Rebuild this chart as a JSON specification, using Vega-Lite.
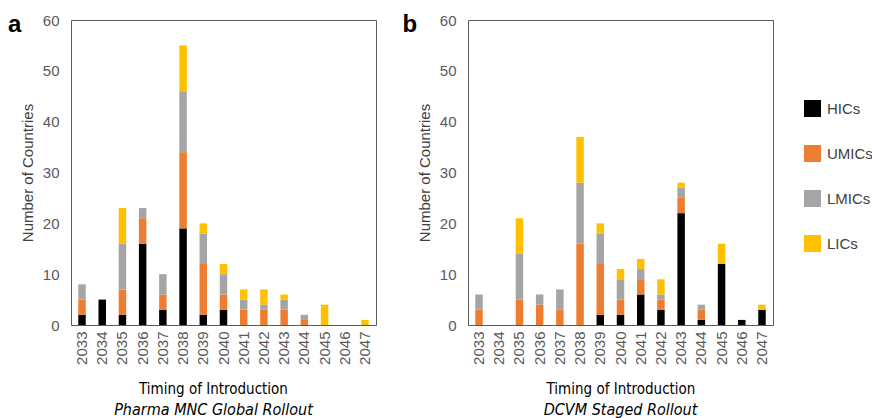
{
  "$schema": "https://vega.github.io/schema/vega-lite/v6.json",
  "padding": {"left": 8, "top": 12, "right": 5, "bottom": 0},
  "background": "white",
  "config": {
    "font": "Liberation Sans",
    "view": {"stroke": "#595959", "strokeWidth": 1},
    "axis": {"labelColor": "#595959", "titleColor": "#404040", "labelFontSize": 15, "titleFontSize": 15, "titleFontWeight": "normal", "domain": false, "ticks": false, "grid": false, "labelFont": "Liberation Sans", "titleFont": "Liberation Sans"},
    "concat": {"spacing": 25}
  },
  "datasets": {
    "a": [
      {"year": "2033", "g": "HICs", "n": 2}, {"year": "2033", "g": "UMICs", "n": 3}, {"year": "2033", "g": "LMICs", "n": 3},
      {"year": "2034", "g": "HICs", "n": 5},
      {"year": "2035", "g": "HICs", "n": 2}, {"year": "2035", "g": "UMICs", "n": 5}, {"year": "2035", "g": "LMICs", "n": 9}, {"year": "2035", "g": "LICs", "n": 7},
      {"year": "2036", "g": "HICs", "n": 16}, {"year": "2036", "g": "UMICs", "n": 5}, {"year": "2036", "g": "LMICs", "n": 2},
      {"year": "2037", "g": "HICs", "n": 3}, {"year": "2037", "g": "UMICs", "n": 3}, {"year": "2037", "g": "LMICs", "n": 4},
      {"year": "2038", "g": "HICs", "n": 19}, {"year": "2038", "g": "UMICs", "n": 15}, {"year": "2038", "g": "LMICs", "n": 12}, {"year": "2038", "g": "LICs", "n": 9},
      {"year": "2039", "g": "HICs", "n": 2}, {"year": "2039", "g": "UMICs", "n": 10}, {"year": "2039", "g": "LMICs", "n": 6}, {"year": "2039", "g": "LICs", "n": 2},
      {"year": "2040", "g": "HICs", "n": 3}, {"year": "2040", "g": "UMICs", "n": 3}, {"year": "2040", "g": "LMICs", "n": 4}, {"year": "2040", "g": "LICs", "n": 2},
      {"year": "2041", "g": "UMICs", "n": 3}, {"year": "2041", "g": "LMICs", "n": 2}, {"year": "2041", "g": "LICs", "n": 2},
      {"year": "2042", "g": "UMICs", "n": 3}, {"year": "2042", "g": "LMICs", "n": 1}, {"year": "2042", "g": "LICs", "n": 3},
      {"year": "2043", "g": "UMICs", "n": 3}, {"year": "2043", "g": "LMICs", "n": 2}, {"year": "2043", "g": "LICs", "n": 1},
      {"year": "2044", "g": "UMICs", "n": 1}, {"year": "2044", "g": "LMICs", "n": 1},
      {"year": "2045", "g": "LICs", "n": 4},
      {"year": "2047", "g": "LICs", "n": 1}
    ],
    "b": [
      {"year": "2033", "g": "UMICs", "n": 3}, {"year": "2033", "g": "LMICs", "n": 3},
      {"year": "2035", "g": "UMICs", "n": 5}, {"year": "2035", "g": "LMICs", "n": 9}, {"year": "2035", "g": "LICs", "n": 7},
      {"year": "2036", "g": "UMICs", "n": 4}, {"year": "2036", "g": "LMICs", "n": 2},
      {"year": "2037", "g": "UMICs", "n": 3}, {"year": "2037", "g": "LMICs", "n": 4},
      {"year": "2038", "g": "UMICs", "n": 16}, {"year": "2038", "g": "LMICs", "n": 12}, {"year": "2038", "g": "LICs", "n": 9},
      {"year": "2039", "g": "HICs", "n": 2}, {"year": "2039", "g": "UMICs", "n": 10}, {"year": "2039", "g": "LMICs", "n": 6}, {"year": "2039", "g": "LICs", "n": 2},
      {"year": "2040", "g": "HICs", "n": 2}, {"year": "2040", "g": "UMICs", "n": 3}, {"year": "2040", "g": "LMICs", "n": 4}, {"year": "2040", "g": "LICs", "n": 2},
      {"year": "2041", "g": "HICs", "n": 6}, {"year": "2041", "g": "UMICs", "n": 3}, {"year": "2041", "g": "LMICs", "n": 2}, {"year": "2041", "g": "LICs", "n": 2},
      {"year": "2042", "g": "HICs", "n": 3}, {"year": "2042", "g": "UMICs", "n": 2}, {"year": "2042", "g": "LMICs", "n": 1}, {"year": "2042", "g": "LICs", "n": 3},
      {"year": "2043", "g": "HICs", "n": 22}, {"year": "2043", "g": "UMICs", "n": 3}, {"year": "2043", "g": "LMICs", "n": 2}, {"year": "2043", "g": "LICs", "n": 1},
      {"year": "2044", "g": "HICs", "n": 1}, {"year": "2044", "g": "UMICs", "n": 2}, {"year": "2044", "g": "LMICs", "n": 1},
      {"year": "2045", "g": "HICs", "n": 12}, {"year": "2045", "g": "LICs", "n": 4},
      {"year": "2046", "g": "HICs", "n": 1},
      {"year": "2047", "g": "HICs", "n": 3}, {"year": "2047", "g": "LICs", "n": 1}
    ]
  },
  "hconcat": [
    {
      "title": {"text": "a", "orient": "left", "anchor": "end", "angle": 0, "fontSize": 24, "fontWeight": "bold", "color": "#000000", "baseline": "top", "align": "right", "offset": -15},
      "vconcat": [
        {
          "data": {"name": "a"},
          "transform": [{"calculate": "indexof(['HICs','UMICs','LMICs','LICs'], datum.g)", "as": "rank"}],
          "width": 305,
          "height": 305,
          "title": {"text": "Pharma MNC Global Rollout", "orient": "bottom", "fontStyle": "italic", "fontWeight": "normal", "fontSize": 16, "color": "#000000", "offset": 6, "dx": -10, "font": "'Liberation Sans Narrow', 'DejaVu Sans Condensed', 'Liberation Sans', sans-serif"},
          "mark": {"type": "bar"},
          "encoding": {
            "x": {"field": "year", "type": "ordinal", "scale": {"domain": ["2033","2034","2035","2036","2037","2038","2039","2040","2041","2042","2043","2044","2045","2046","2047"], "paddingInner": 0.63, "paddingOuter": 0.36}, "axis": {"title": "Timing of Introduction", "titleX": 142, "labelAngle": 270, "labelAlign": "right", "labelBaseline": "middle", "labelPadding": 6, "titlePadding": 17, "titleFont": "'Liberation Sans Narrow', 'DejaVu Sans Condensed', 'Liberation Sans', sans-serif", "titleFontSize": 15, "titleColor": "#000000"}},
            "y": {"field": "n", "type": "quantitative", "stack": "zero", "scale": {"domain": [0, 60]}, "axis": {"values": [0, 10, 20, 30, 40, 50, 60], "title": "Number of Countries", "labelPadding": 12, "titlePadding": 7}},
            "order": {"field": "rank", "type": "quantitative", "sort": "ascending"},
            "color": {"field": "g", "type": "nominal", "sort": ["HICs", "UMICs", "LMICs", "LICs"], "scale": {"domain": ["HICs", "UMICs", "LMICs", "LICs"], "range": ["#000000", "#ED7D31", "#A5A5A5", "#FFC000"]}, "legend": {"title": null, "orient": "none", "legendX": 733, "legendY": 80, "symbolType": "square", "symbolSize": 289, "symbolStrokeWidth": 0, "symbolOpacity": 1, "labelFontSize": 15, "labelColor": "#404040", "rowPadding": 28, "labelOffset": 6}}
          }
        }
      ]
    },
    {
      "title": {"text": "b", "orient": "left", "anchor": "end", "angle": 0, "fontSize": 24, "fontWeight": "bold", "color": "#000000", "baseline": "top", "align": "right", "offset": -15},
      "vconcat": [
        {
          "data": {"name": "b"},
          "transform": [{"calculate": "indexof(['HICs','UMICs','LMICs','LICs'], datum.g)", "as": "rank"}],
          "width": 305,
          "height": 305,
          "title": {"text": "DCVM Staged Rollout", "orient": "bottom", "fontStyle": "italic", "fontWeight": "normal", "fontSize": 16, "color": "#000000", "offset": 6, "font": "'Liberation Sans Narrow', 'DejaVu Sans Condensed', 'Liberation Sans', sans-serif"},
          "mark": {"type": "bar"},
          "encoding": {
            "x": {"field": "year", "type": "ordinal", "scale": {"domain": ["2033","2034","2035","2036","2037","2038","2039","2040","2041","2042","2043","2044","2045","2046","2047"], "paddingInner": 0.63, "paddingOuter": 0.36}, "axis": {"title": "Timing of Introduction", "labelAngle": 270, "labelAlign": "right", "labelBaseline": "middle", "labelPadding": 6, "titlePadding": 17, "titleFont": "'Liberation Sans Narrow', 'DejaVu Sans Condensed', 'Liberation Sans', sans-serif", "titleFontSize": 15, "titleColor": "#000000"}},
            "y": {"field": "n", "type": "quantitative", "stack": "zero", "scale": {"domain": [0, 60]}, "axis": {"values": [0, 10, 20, 30, 40, 50, 60], "title": "Number of Countries", "labelPadding": 12, "titlePadding": 7}},
            "order": {"field": "rank", "type": "quantitative", "sort": "ascending"},
            "color": {"field": "g", "type": "nominal", "sort": ["HICs", "UMICs", "LMICs", "LICs"], "scale": {"domain": ["HICs", "UMICs", "LMICs", "LICs"], "range": ["#000000", "#ED7D31", "#A5A5A5", "#FFC000"]}, "legend": {"title": null, "orient": "none", "legendX": 733, "legendY": 80, "symbolType": "square", "symbolSize": 289, "symbolStrokeWidth": 0, "symbolOpacity": 1, "labelFontSize": 15, "labelColor": "#404040", "rowPadding": 28, "labelOffset": 6}}
          }
        }
      ]
    }
  ]
}
